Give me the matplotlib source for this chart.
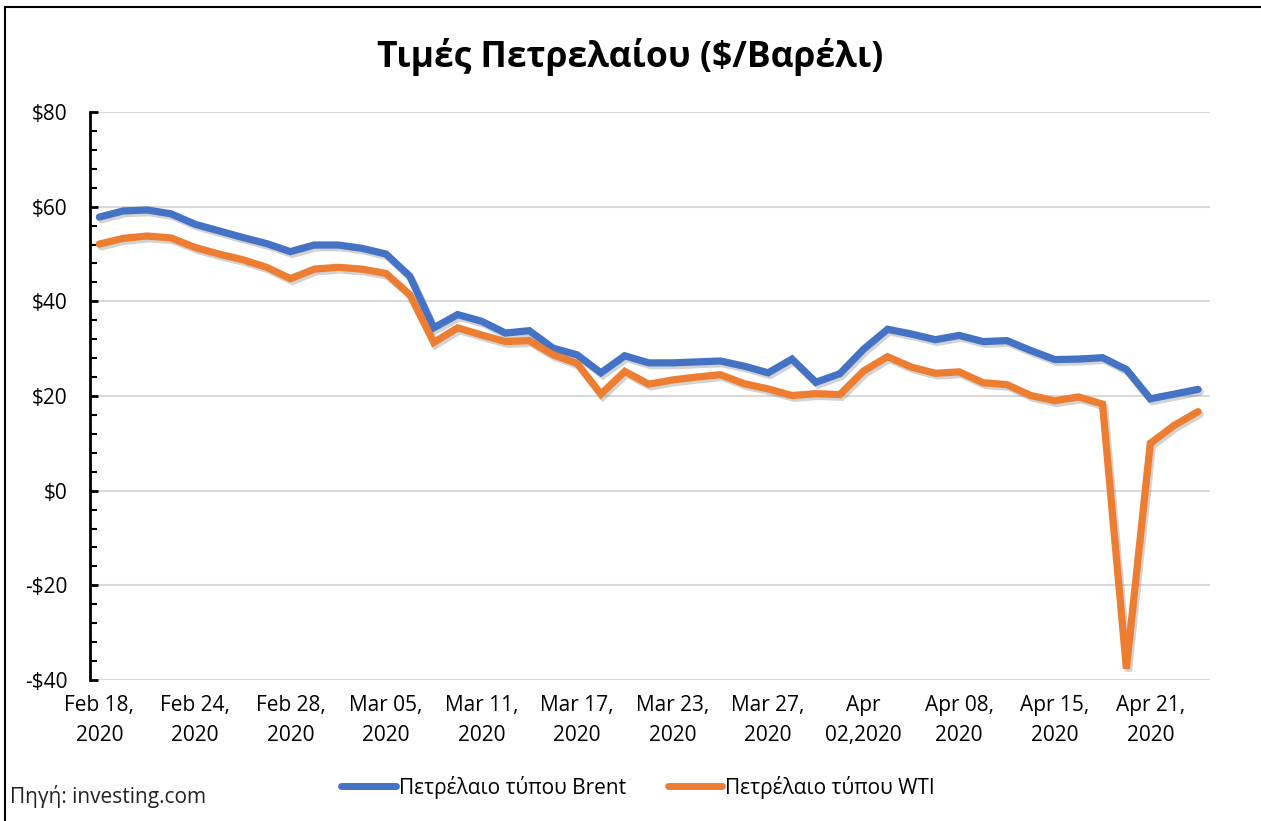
import matplotlib
matplotlib.use('Agg')
import matplotlib.pyplot as plt
import matplotlib.patheffects as pe
from matplotlib.patches import Rectangle
from matplotlib.ticker import MultipleLocator, FuncFormatter

plt.rcParams['font.family'] = ['Open Sans', 'DejaVu Sans']

# Trading days Feb 18 - Apr 23, 2020
dates = ['Feb 18', 'Feb 19', 'Feb 20', 'Feb 21', 'Feb 24', 'Feb 25', 'Feb 26', 'Feb 27',
         'Feb 28', 'Mar 02', 'Mar 03', 'Mar 04', 'Mar 05', 'Mar 06', 'Mar 09', 'Mar 10',
         'Mar 11', 'Mar 12', 'Mar 13', 'Mar 16', 'Mar 17', 'Mar 18', 'Mar 19', 'Mar 20',
         'Mar 23', 'Mar 24', 'Mar 25', 'Mar 26', 'Mar 27', 'Mar 30', 'Mar 31', 'Apr 01',
         'Apr 02', 'Apr 03', 'Apr 06', 'Apr 07', 'Apr 08', 'Apr 09', 'Apr 13', 'Apr 14',
         'Apr 15', 'Apr 16', 'Apr 17', 'Apr 20', 'Apr 21', 'Apr 22', 'Apr 23']

brent = [57.8, 59.1, 59.3, 58.5, 56.3, 54.9, 53.5, 52.2, 50.5, 51.9, 51.9, 51.2,
         50.0, 45.3, 34.4, 37.2, 35.8, 33.3, 33.8, 30.1, 28.7, 24.9, 28.5, 27.0,
         27.0, 27.2, 27.4, 26.3, 24.9, 27.8, 22.9, 24.7, 29.9, 34.1, 33.1, 31.9,
         32.8, 31.5, 31.7, 29.6, 27.7, 27.8, 28.1, 25.6, 19.4, 20.4, 21.4]

wti = [52.1, 53.3, 53.8, 53.4, 51.4, 50.0, 48.8, 47.2, 44.8, 46.8, 47.2, 46.8,
       45.9, 41.4, 31.3, 34.4, 32.9, 31.5, 31.7, 28.7, 26.9, 20.4, 25.2, 22.5,
       23.4, 24.0, 24.5, 22.6, 21.5, 20.1, 20.5, 20.3, 25.3, 28.3, 26.1, 24.8,
       25.1, 22.8, 22.4, 20.1, 19.0, 19.8, 18.3, -37.6, 10.0, 13.8, 16.7]

tick_labels = ['Feb 18,\n2020', 'Feb 24,\n2020', 'Feb 28,\n2020', 'Mar 05,\n2020',
               'Mar 11,\n2020', 'Mar 17,\n2020', 'Mar 23,\n2020', 'Mar 27,\n2020',
               'Apr\n02,2020', 'Apr 08,\n2020', 'Apr 15,\n2020', 'Apr 21,\n2020']

x = list(range(len(dates)))

fig = plt.figure(figsize=(12.61, 8.21), dpi=100)
ax = fig.add_axes([90 / 1261, 1 - 680 / 821, 1120 / 1261, 568 / 821])

shadow = [pe.SimpleLineShadow(offset=(1.5, -2), shadow_color='gray', alpha=0.35),
          pe.Normal()]
ax.plot(x, brent, color='#4472C4', lw=5.2, solid_capstyle='round', solid_joinstyle='miter',
        label='Πετρέλαιο τύπου Brent', path_effects=shadow)
ax.plot(x, wti, color='#ED7D31', lw=5.2, solid_capstyle='round', solid_joinstyle='miter',
        label='Πετρέλαιο τύπου WTI', path_effects=shadow)

ax.set_xlim(-0.39, 46.5)
ax.set_ylim(-40, 80)
ax.yaxis.set_major_locator(MultipleLocator(20))
ax.yaxis.set_minor_locator(MultipleLocator(4))
ax.yaxis.set_major_formatter(FuncFormatter(lambda v, p: ('-$%d' % abs(v)) if v < 0 else '$%d' % v))
ax.grid(axis='y', color='#d9d9d9', lw=1.5)
ax.set_axisbelow(True)

ax.set_xticks(x[::4])
ax.set_xticklabels(tick_labels, linespacing=1.55)
ax.tick_params(axis='x', length=0, pad=11, labelsize=15)
ax.tick_params(axis='y', which='major', direction='in', length=6, width=2, pad=16, labelsize=15)
ax.tick_params(axis='y', which='minor', direction='in', length=5, width=1.5)

for s in ['top', 'right', 'bottom']:
    ax.spines[s].set_visible(False)
ax.spines['left'].set_linewidth(2)

fig.text(0.5, 1 - 57 / 821, 'Τιμές Πετρελαίου ($/Βαρέλι)', ha='center', va='center',
         fontsize=25.5, fontweight='bold')
fig.text(10 / 1261, 1 - 796 / 821, 'Πηγή: investing.com', ha='left', va='center',
         fontsize=15, color='#222222')

leg = fig.legend(loc='center', bbox_to_anchor=(638 / 1261, 1 - 787 / 821), ncol=2,
                 frameon=False, fontsize=15, handlelength=2.6, handletextpad=0.15,
                 columnspacing=2.0)
for line in leg.get_lines():
    line.set_linewidth(5)
    line.set_solid_capstyle('round')
    line.set_path_effects([])

# frame around the chart
fig.patches.append(Rectangle((5 / 1261, -0.05), 1.1, 1 - 7 / 821 + 0.05,
                             transform=fig.transFigure, fill=False, edgecolor='black',
                             lw=1.5, clip_on=False))

fig.savefig('out.png', dpi=100)
